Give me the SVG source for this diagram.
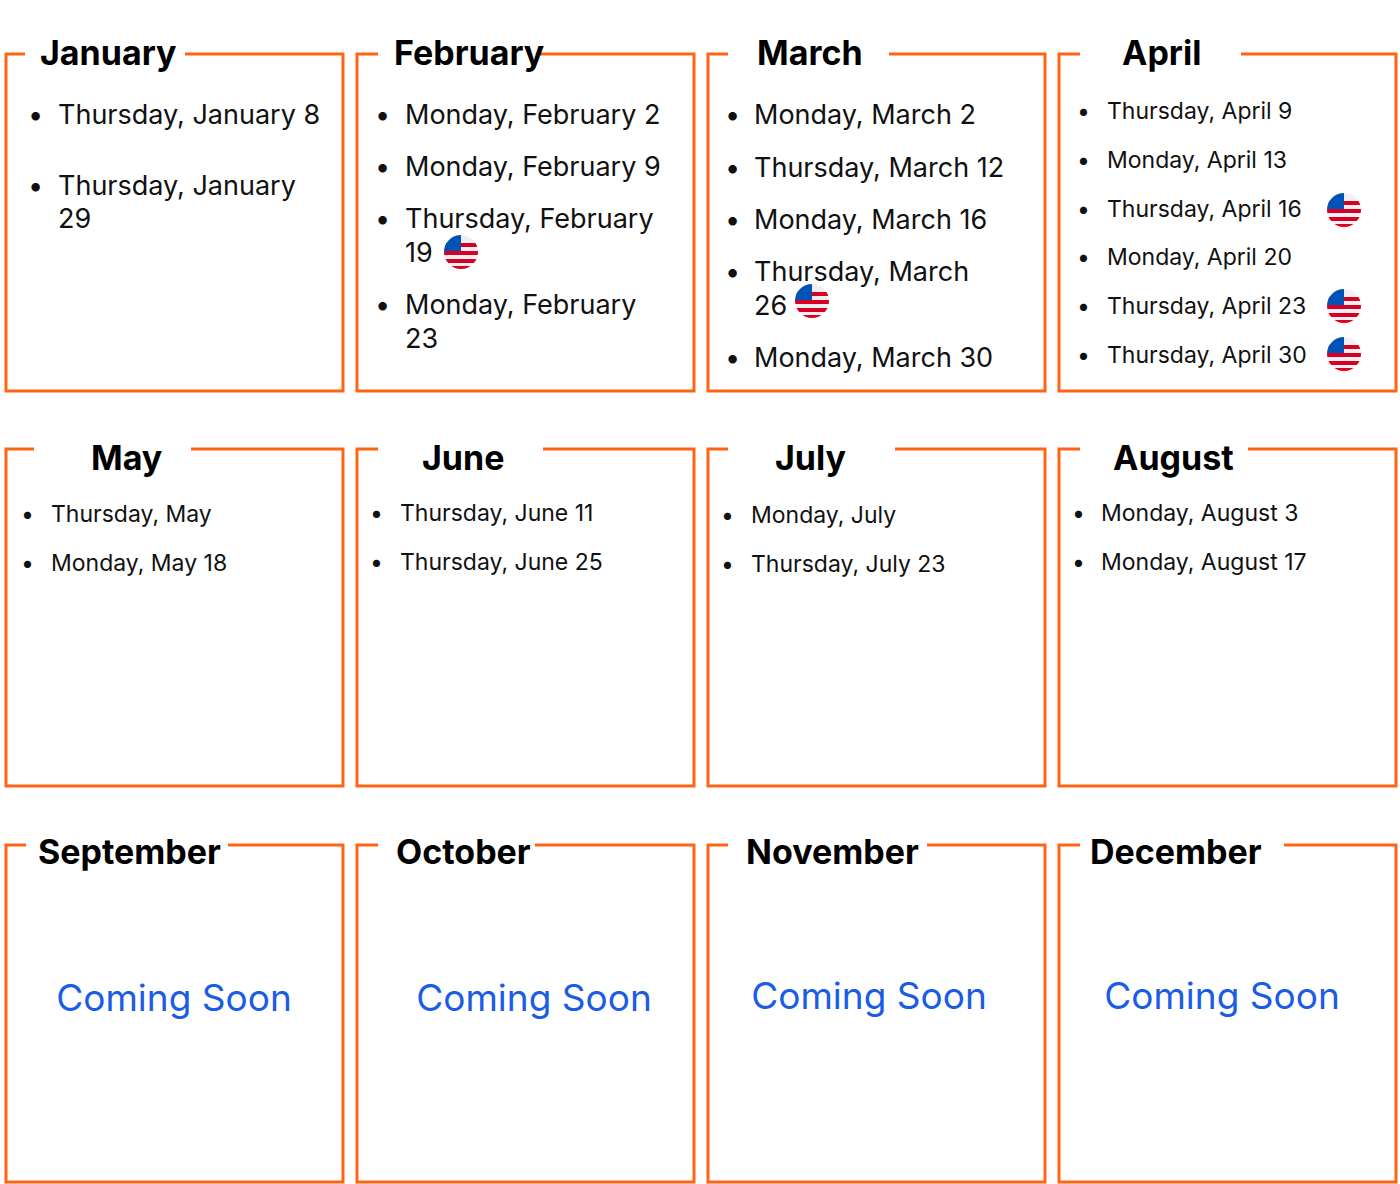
<svg xmlns="http://www.w3.org/2000/svg" width="1400" height="1184" viewBox="0 0 1400 1184">
<style>
.b{fill:none;stroke:#FF6414;stroke-width:3}
.g{fill:#fff}
.t{font-family:Inter,"Liberation Sans",sans-serif;font-weight:700;font-size:34px;fill:#000}
.i{font-family:Inter,"Liberation Sans",sans-serif;font-size:27px;fill:#111}
.s{font-family:Inter,"Liberation Sans",sans-serif;font-size:23px;fill:#111}
.c{font-family:Inter,"Liberation Sans",sans-serif;font-size:37px;fill:#1A5CE6;text-anchor:middle}
</style>
<defs>
<clipPath id="fc"><circle cx="0" cy="0" r="17"/></clipPath>
<g id="flag"><g clip-path="url(#fc)">
<rect x="-17" y="-17" width="34" height="34" fill="#F0F0F0"/>
<rect x="-17" y="-9" width="34" height="4" fill="#D80027"/>
<rect x="-17" y="-1" width="34" height="4" fill="#D80027"/>
<rect x="-17" y="7" width="34" height="4" fill="#D80027"/>
<rect x="-17" y="14" width="34" height="4" fill="#D80027"/>
<rect x="-17" y="-17" width="17" height="16" fill="#0052B4"/>
</g></g>
</defs>
<rect width="1400" height="1184" fill="#fff"/>
<g id="jan"><rect class="b" x="6" y="54" width="337" height="337"/><rect class="g" x="25" y="40" width="160" height="30"/><text class="t" x="40" y="65">January</text>
<g class="i"><text x="28" y="124">•</text><text x="58" y="124">Thursday, January 8</text><text x="28" y="195">•</text><text x="58" y="195">Thursday, January</text><text x="58" y="228">29</text></g></g>
<g id="feb"><rect class="b" x="357" y="54" width="337" height="337"/><rect class="g" x="378" y="40" width="162" height="30"/><text class="t" x="394" y="65">February</text>
<g class="i"><text x="375" y="124">•</text><text x="405" y="124">Monday, February 2</text><text x="375" y="176">•</text><text x="405" y="176">Monday, February 9</text><text x="375" y="228">•</text><text x="405" y="228">Thursday, February</text><text x="405" y="262">19</text><text x="375" y="314">•</text><text x="405" y="314">Monday, February</text><text x="405" y="348">23</text></g><use href="#flag" x="461" y="252"/></g>
<g id="mar"><rect class="b" x="708" y="54" width="337" height="337"/><rect class="g" x="728" y="40" width="161" height="30"/><text class="t" x="757" y="65">March</text>
<g class="i"><text x="725" y="124">•</text><text x="754" y="124">Monday, March 2</text><text x="725" y="177">•</text><text x="754" y="177">Thursday, March 12</text><text x="725" y="229">•</text><text x="754" y="229">Monday, March 16</text><text x="725" y="281">•</text><text x="754" y="281">Thursday, March</text><text x="754" y="315">26</text><text x="725" y="367">•</text><text x="754" y="367">Monday, March 30</text></g><use href="#flag" x="812" y="301"/></g>
<g id="apr"><rect class="b" x="1059" y="54" width="337" height="337"/><rect class="g" x="1080" y="40" width="161" height="30"/><text class="t" x="1122" y="65">April</text>
<g class="s"><text x="1077" y="119">•</text><text x="1107" y="119">Thursday, April 9</text><text x="1077" y="168">•</text><text x="1107" y="168">Monday, April 13</text><text x="1077" y="217">•</text><text x="1107" y="217">Thursday, April 16</text><text x="1077" y="265">•</text><text x="1107" y="265">Monday, April 20</text><text x="1077" y="314">•</text><text x="1107" y="314">Thursday, April 23</text><text x="1077" y="363">•</text><text x="1107" y="363">Thursday, April 30</text></g>
<use href="#flag" x="1344" y="210"/><use href="#flag" x="1344" y="306"/><use href="#flag" x="1344" y="354"/></g>
<g id="may"><rect class="b" x="6" y="449" width="337" height="337"/><rect class="g" x="34" y="435" width="157" height="30"/><text class="t" x="91" y="470">May</text>
<g class="s"><text x="21" y="522">•</text><text x="51" y="522">Thursday, May</text><text x="21" y="571">•</text><text x="51" y="571">Monday, May 18</text></g></g>
<g id="jun"><rect class="b" x="357" y="449" width="337" height="337"/><rect class="g" x="378" y="435" width="165" height="30"/><text class="t" x="422" y="470">June</text>
<g class="s"><text x="370" y="521">•</text><text x="400" y="521">Thursday, June 11</text><text x="370" y="570">•</text><text x="400" y="570">Thursday, June 25</text></g></g>
<g id="jul"><rect class="b" x="708" y="449" width="337" height="337"/><rect class="g" x="728" y="435" width="167" height="30"/><text class="t" x="775" y="470">July</text>
<g class="s"><text x="721" y="523">•</text><text x="751" y="523">Monday, July</text><text x="721" y="572">•</text><text x="751" y="572">Thursday, July 23</text></g></g>
<g id="aug"><rect class="b" x="1059" y="449" width="337" height="337"/><rect class="g" x="1080" y="435" width="168" height="30"/><text class="t" x="1113" y="470">August</text>
<g class="s"><text x="1072" y="521">•</text><text x="1101" y="521">Monday, August 3</text><text x="1072" y="570">•</text><text x="1101" y="570">Monday, August 17</text></g></g>
<g id="sep"><rect class="b" x="6" y="845" width="337" height="337"/><rect class="g" x="26" y="830" width="202" height="30"/><text class="t" x="38" y="864">September</text><text class="c" x="174" y="1011">Coming Soon</text></g>
<g id="oct"><rect class="b" x="357" y="845" width="337" height="337"/><rect class="g" x="378" y="830" width="157" height="30"/><text class="t" x="396" y="864">October</text><text class="c" x="534" y="1011">Coming Soon</text></g>
<g id="nov"><rect class="b" x="708" y="845" width="337" height="337"/><rect class="g" x="728" y="830" width="199" height="30"/><text class="t" x="746" y="864">November</text><text class="c" x="869" y="1009">Coming Soon</text></g>
<g id="dec"><rect class="b" x="1059" y="845" width="337" height="337"/><rect class="g" x="1080" y="830" width="204" height="30"/><text class="t" x="1090" y="864">December</text><text class="c" x="1222" y="1009">Coming Soon</text></g>
<g id="connectors"/>
</svg>
